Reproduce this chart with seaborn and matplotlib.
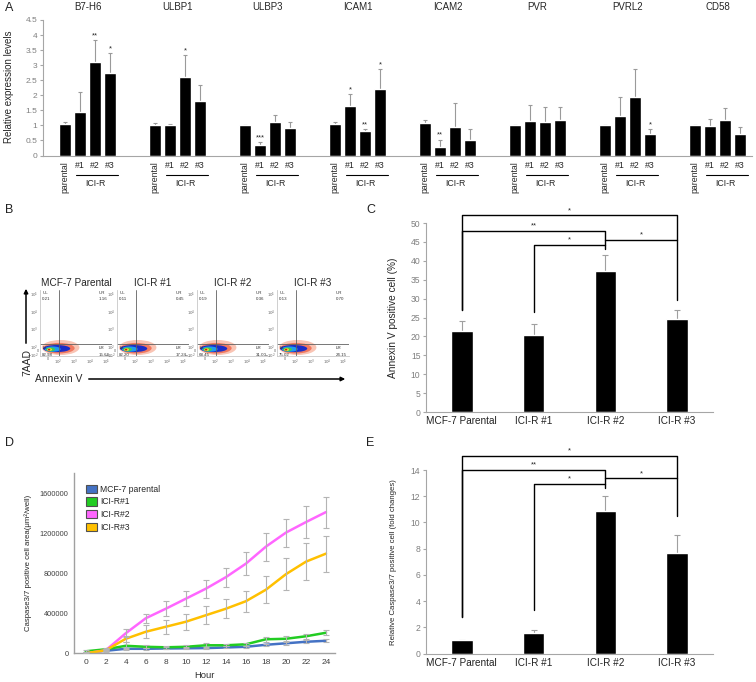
import numpy as np
import pandas as pd
import seaborn as sns
import matplotlib.pyplot as plt
import matplotlib.transforms as mtrans
from matplotlib.patches import Ellipse, Patch, FancyArrowPatch

# ---------------- panel A: relative expression levels ----------------
genes = ["B7-H6", "ULBP1", "ULBP3", "ICAM1", "ICAM2", "PVR", "PVRL2", "CD58"]
clone_labels = ["#1", "#2", "#3"]
expr_mean = [[1.05, 1.45, 3.10, 2.75],
             [1.02, 1.02, 2.60, 1.80],
             [1.00, 0.35, 1.10, 0.90],
             [1.03, 1.65, 0.82, 2.20],
             [1.07, 0.29, 0.95, 0.50],
             [1.00, 1.13, 1.11, 1.18],
             [1.00, 1.31, 1.95, 0.72],
             [1.00, 0.97, 1.18, 0.72]]
expr_err = [[0.05, 0.65, 0.73, 0.65],
            [0.05, 0.02, 0.75, 0.55],
            [0.00, 0.10, 0.23, 0.20],
            [0.07, 0.38, 0.05, 0.67],
            [0.10, 0.24, 0.80, 0.39],
            [0.00, 0.54, 0.49, 0.44],
            [0.00, 0.62, 0.92, 0.17],
            [0.00, 0.24, 0.40, 0.22]]
expr_stars = [["", "", "**", "*"],
              ["", "", "*", ""],
              ["", "***", "", ""],
              ["", "*", "**", "*"],
              ["", "**", "", ""],
              ["", "", "", ""],
              ["", "", "", "*"],
              ["", "", "", ""]]

# ---------------- panel B: flow cytometry quadrants ----------------
flow_titles = ["MCF-7 Parental", "ICI-R #1", "ICI-R #2", "ICI-R #3"]
flow_ul = ["0.21", "0.11", "0.19", "0.13"]
flow_ur = ["1.16", "0.45", "0.36", "0.70"]
flow_ll = ["82.98", "82.20", "68.45", "75.02"]
flow_lr = ["15.66", "17.24", "31.00", "24.15"]

# ---------------- panels C / E ----------------
groups = ["MCF-7 Parental", "ICI-R #1", "ICI-R #2", "ICI-R #3"]
annexin_mean = [21.4, 20.5, 37.4, 24.6]
annexin_err = [2.7, 2.7, 4.1, 2.3]
# (left bar, right bar, bracket height, left foot, right foot, mark)
annexin_brackets = [(0, 3, 52.0, 27.0, 29.5, "*"),
                    (0, 2, 47.9, 27.0, 43.0, "**"),
                    (1, 2, 44.2, 26.5, 44.2, "*"),
                    (2, 3, 45.6, 45.6, 45.6, "*")]
caspase_mean = [1.02, 1.60, 10.87, 7.65]
caspase_err = [0.03, 0.18, 1.13, 1.39]
caspase_brackets = [(0, 3, 15.1, 2.8, 10.5, "*"),
                    (0, 2, 14.0, 2.8, 12.6, "**"),
                    (1, 2, 12.93, 3.33, 12.93, "*"),
                    (2, 3, 13.36, 13.36, 13.36, "*")]

# ---------------- panel D: caspase 3/7 time course ----------------
hours = [0, 2, 4, 6, 8, 10, 12, 14, 16, 18, 20, 22, 24]
line_names = ["MCF-7 parental", "ICI-R#1", "ICI-R#2", "ICI-R#3"]
line_colors = ["#4472C4", "#22CC22", "#FF66FF", "#FFC000"]
parental_area = [5000, 25000, 45000, 45000, 48000, 50000, 52000, 58000, 65000, 85000, 100000, 115000, 125000]
parental_err = [10000, 8000, 10000, 10000, 10000, 10000, 10000, 10000, 12000, 12000, 15000, 15000, 15000]
r1_area = [20000, 40000, 75000, 65000, 60000, 65000, 80000, 80000, 90000, 140000, 145000, 170000, 205000]
r1_err = [15000, 10000, 35000, 15000, 15000, 15000, 25000, 12000, 15000, 25000, 25000, 25000, 25000]
r2_area = [0, 30000, 200000, 350000, 445000, 545000, 645000, 760000, 895000, 1065000, 1205000, 1310000, 1410000]
r2_err = [10000, 10000, 40000, 45000, 75000, 75000, 90000, 95000, 115000, 140000, 140000, 160000, 155000]
r3_area = [0, 30000, 145000, 215000, 265000, 315000, 380000, 445000, 520000, 635000, 790000, 915000, 995000]
r3_err = [8000, 8000, 30000, 65000, 70000, 80000, 90000, 95000, 105000, 135000, 160000, 185000, 180000]

sns.set_theme(style="white")
plt.rcParams['font.family'] = ['Liberation Sans', 'DejaVu Sans']
plt.rcParams['axes.unicode_minus'] = False

W, H = 756, 682
fig = plt.figure(figsize=(W / 100, H / 100), dpi=100)


def box(left, top, right, bottom):
    return [left / W, 1 - bottom / H, (right - left) / W, (bottom - top) / H]


def fxy(x, y):
    return x / W, 1 - y / H


SPINE = '#A6A6A6'
TICKTXT = '#7F7F7F'


def plain_spines(ax, col=SPINE, lw=0.8):
    sns.despine(ax=ax)
    for s in ('left', 'bottom'):
        ax.spines[s].set_color(col)
        ax.spines[s].set_linewidth(lw)


# ===== A =====
axA = fig.add_axes(box(43, 20, 752, 155.5))
rowsA = [(g * 6 + c, expr_mean[g][c], expr_err[g][c], expr_stars[g][c])
         for g in range(len(genes)) for c in range(4)]
dfA = pd.DataFrame(rowsA, columns=['pos', 'level', 'err', 'star'])
sns.barplot(data=dfA, x='pos', y='level', native_scale=True, width=0.84,
            color='black', saturation=1, errorbar=None, ax=axA)
axA.errorbar(dfA['pos'], dfA['level'], yerr=dfA['err'], fmt='none', ecolor='#9A9A9A',
             elinewidth=0.8, capsize=1.5, capthick=0.8, zorder=0.5)
for _, r in dfA.iterrows():
    if r.star:
        axA.annotate(r.star, (r.pos, r.level + r.err), xytext=(0, 0.5), textcoords='offset points',
                     ha='center', va='bottom', fontsize=5.5)
axA.set_xlim(-1.47, 45.8)
axA.set_ylim(0, 4.5)
yt = np.arange(0, 4.51, 0.5)
axA.set_yticks(yt)
axA.set_yticklabels([f'{v:g}' for v in yt])
axA.set_xticks([])
axA.set_xlabel('')
axA.tick_params(axis='y', left=True, labelsize=6, labelcolor=TICKTXT, color=SPINE,
                length=2.5, width=0.8, pad=1.5)
plain_spines(axA)
axA.set_ylabel('Relative expression levels', fontsize=7)
axA.yaxis.set_label_coords(-0.041, 0.51)
blend = mtrans.blended_transform_factory(axA.transData, axA.transAxes)
for g, gene in enumerate(genes):
    x0 = g * 6
    axA.text(x0 + 1.5, 4.92, gene, ha='center', va='center', fontsize=7, clip_on=False)
    axA.text(x0, -0.04, 'parental', rotation=90, ha='center', va='top', fontsize=6.3,
             transform=blend, clip_on=False)
    for c, lab in enumerate(clone_labels):
        axA.text(x0 + c + 1, -0.075, lab, ha='center', va='center', fontsize=6.3,
                 transform=blend, clip_on=False)
    axA.plot([x0 + 0.75, x0 + 3.5], [-0.144, -0.144], color='black', lw=0.8,
             transform=blend, clip_on=False)
    axA.text(x0 + 2.0, -0.21, 'ICI-R', ha='center', va='center', fontsize=6.3,
             transform=blend, clip_on=False)

# ===== B =====
blob_layers = [  # colour, centre x, centre y, width, height (decade units)
    ('#F9C4B4', 2.15, 1.96, 2.35, 0.85),
    ('#F07860', 2.05, 1.92, 1.95, 0.60),
    ('#1A2CC8', 1.90, 1.90, 1.70, 0.40),
    ('#1E9CF0', 1.65, 1.87, 1.00, 0.30),
    ('#40CC50', 1.52, 1.85, 0.55, 0.22),
    ('#F0E030', 1.46, 1.84, 0.30, 0.15),
    ('#E01818', 1.43, 1.84, 0.15, 0.10),
]
flow_lefts = [40, 117, 197, 277]
for k, left in enumerate(flow_lefts):
    ax = fig.add_axes(box(left, 290, left + 72, 356))
    ax.set_xlim(0.86, 5.36)
    ax.set_ylim(1.48, 5.21)
    for col, cx, cy, w, h in blob_layers:
        ax.add_patch(Ellipse((cx, cy), w, h, facecolor=col, edgecolor='none'))
    ax.axvline(2.05, color='#606060', lw=0.6)
    ax.axhline(2.15, color='#606060', lw=0.6)
    ax.set_xticks([1.38, 2, 3, 4, 5])
    ax.set_xticklabels(['0', '$10^2$', '$10^3$', '$10^4$', '$10^5$'])
    ax.set_yticks([1.54, 1.78, 2, 3, 4, 5])
    ax.set_yticklabels(['$-10^2$', '0', '$10^2$', '$10^3$', '$10^4$', '$10^5$'])
    ax.tick_params(labelsize=2.8, labelcolor='#666666', length=0, pad=1)
    plain_spines(ax, col='#C8C8C8', lw=0.6)
    ax.set_title(flow_titles[k], fontsize=7.2, pad=3)
    qs = dict(fontsize=3.2, color='#333333', linespacing=1.9, va='top')
    ax.text(1.0, 5.17, f'UL\n{flow_ul[k]}', ha='left', **qs)
    ax.text(4.55, 5.17, f'UR\n{flow_ur[k]}', ha='left', **qs)
    ax.text(1.0, 2.02, f'LL\n{flow_ll[k]}', ha='left', clip_on=False, **qs)
    ax.text(4.55, 2.02, f'LR\n{flow_lr[k]}', ha='left', clip_on=False, **qs)

fig.text(*fxy(35, 379), 'Annexin V', ha='left', va='center', fontsize=7.5)
fig.text(*fxy(27, 362), '7AAD', ha='center', va='center', rotation=90, fontsize=7.5)
fig.add_artist(FancyArrowPatch(fxy(86, 379), fxy(348, 379), transform=fig.transFigure,
                               arrowstyle='-|>', mutation_scale=6, lw=1.1, color='black'))
fig.add_artist(FancyArrowPatch(fxy(26, 346), fxy(26, 286), transform=fig.transFigure,
                               arrowstyle='-|>', mutation_scale=6, lw=1.1, color='black'))


# ===== C / E =====
def bar_panel(ax, means, errs, brackets, ymax, ystep, ylabel, ylab_size, ylab_x):
    df = pd.DataFrame({'group': groups, 'value': means})
    sns.barplot(data=df, x='group', y='value', order=groups, color='black', saturation=1,
                width=0.3, errorbar=None, ax=ax)
    ax.errorbar(range(len(groups)), means, yerr=errs, fmt='none', ecolor='#A0A0A0',
                elinewidth=0.8, capsize=2, capthick=0.8, zorder=0.5)
    ax.set_xlim(-0.5, 3.5)
    ax.set_ylim(0, ymax)
    ticks = np.arange(0, ymax + 0.01, ystep)
    ax.set_yticks(ticks)
    ax.set_yticklabels([f'{v:g}' for v in ticks])
    ax.tick_params(axis='y', left=True, labelsize=6.2, labelcolor=TICKTXT, color=SPINE,
                   length=2.5, width=0.8, pad=1.5)
    ax.tick_params(axis='x', labelsize=7.2, labelcolor='#222222', length=0, pad=3)
    ax.set_xlabel('')
    plain_spines(ax)
    ax.set_ylabel(ylabel, fontsize=ylab_size)
    ax.yaxis.set_label_coords(ylab_x, 0.5)
    for i, j, h, lo_i, lo_j, mark in brackets:
        ax.plot([i, i, j, j], [lo_i, h, h, lo_j], color='black', lw=1.0, clip_on=False)
        ax.annotate(mark, ((i + j) / 2, h), xytext=(0, 1), textcoords='offset points',
                    ha='center', va='bottom', fontsize=5.5, annotation_clip=False)


axC = fig.add_axes(box(426, 223, 713, 412))
bar_panel(axC, annexin_mean, annexin_err, annexin_brackets, 50, 5,
          'Annexin V positive cell (%)', 7.3, -0.098)

axE = fig.add_axes(box(426, 470, 713, 653.7))
bar_panel(axE, caspase_mean, caspase_err, caspase_brackets, 14, 2,
          'Relative Caspase3/7 positive cell (fold changes)', 5.6, -0.102)

# ===== D =====
axD = fig.add_axes(box(74, 473, 335, 653.3))
series = [parental_area, r1_area, r2_area, r3_area]
errs = [parental_err, r1_err, r2_err, r3_err]
dfD = pd.DataFrame({
    'hour': hours * len(line_names),
    'area': sum(series, []),
    'line': [n for n in line_names for _ in hours],
})
sns.lineplot(data=dfD, x='hour', y='area', hue='line', hue_order=line_names,
             palette=dict(zip(line_names, line_colors)), linewidth=1.8,
             errorbar=None, legend=False, ax=axD)
for vals, e in zip(series, errs):
    axD.errorbar(hours, vals, yerr=e, fmt='none', ecolor='#B4B4B4', elinewidth=0.8,
                 capsize=2, capthick=0.8, zorder=3)
axD.set_xlim(-1.17, 24.9)
axD.set_ylim(0, 1800000)
axD.set_xticks(hours)
axD.set_yticks([0, 400000, 800000, 1200000, 1600000])
axD.set_yticklabels(['0', '400000', '800000', '1200000', '1600000'])
axD.tick_params(axis='both', length=0, labelcolor='#404040')
axD.tick_params(axis='y', labelsize=5.3, pad=4)
axD.tick_params(axis='x', labelsize=6, pad=4)
plain_spines(axD, col='#A0A0A0', lw=1.0)
axD.set_xlabel('Hour', fontsize=6.8, color='#303030')
axD.xaxis.set_label_coords(0.5, -0.1)
axD.set_ylabel('Caspase3/7 positive cell area(\u03bcm\u00b2/well)', fontsize=5.6)
axD.yaxis.set_label_coords(-0.162, 0.5)
handles = [Patch(facecolor=c, edgecolor='#505050', linewidth=0.8) for c in line_colors]
axD.legend(handles, line_names, loc='upper left', bbox_to_anchor=(0.046, 0.935),
           frameon=False, fontsize=6.2, handlelength=1.25, handleheight=1.08,
           labelspacing=0.43, handletextpad=0.4, borderpad=0, borderaxespad=0)

# panel letters
for lab, (x, y) in zip("ABCDE", [(5, 8), (5, 210), (366, 210), (5, 443), (366, 443)]):
    fig.text(*fxy(x, y), lab, ha='left', va='center', fontsize=9, color='#222222')

fig.savefig('out.png', dpi=100)
